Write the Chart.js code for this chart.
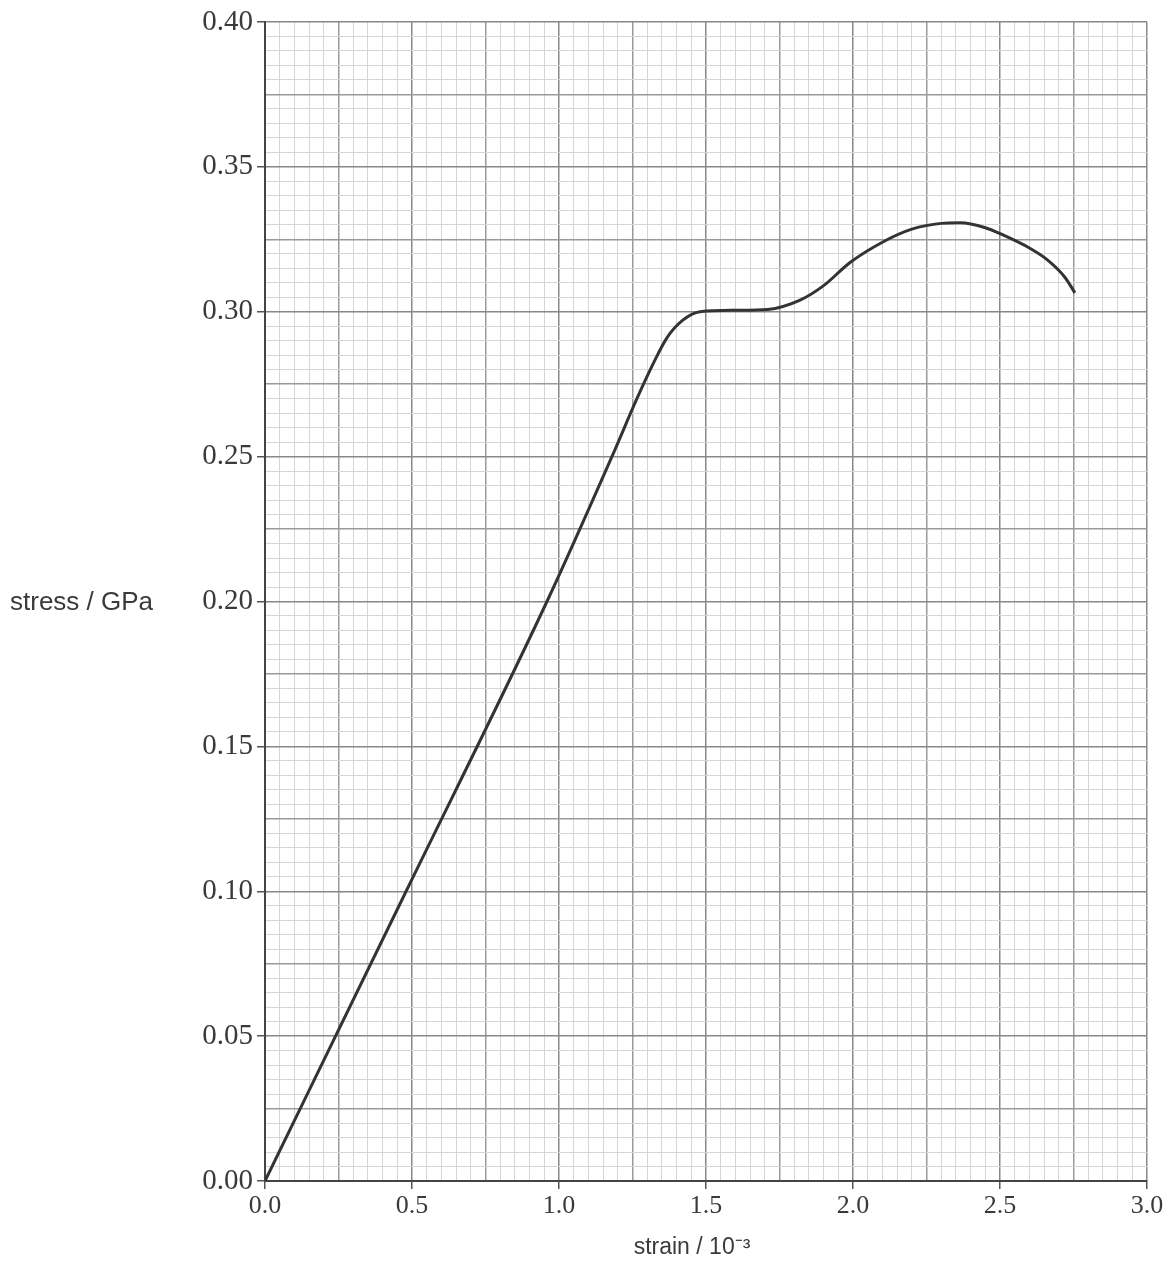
<!DOCTYPE html>
<html>
<head>
<meta charset="utf-8">
<script src="https://cdn.jsdelivr.net/npm/chart.js@4/dist/chart.umd.min.js"></script>
<style>
  html, body { margin: 0; padding: 0; background: #ffffff; }
  #wrap { width: 1172px; height: 1262px; position: relative; }
</style>
</head>
<body>
<div id="wrap"><canvas id="c"></canvas></div>
<script>
// Data (strain in 10^-3, stress in GPa)
const strain = [0, 0.48, 0.959, 1.18, 1.265, 1.32, 1.367, 1.42, 1.48, 1.60, 1.71, 1.82, 1.90, 1.99, 2.10, 2.20, 2.30, 2.364, 2.45, 2.51, 2.60, 2.66, 2.72, 2.755];
const stress = [0, 0.10, 0.20, 0.25, 0.27, 0.282, 0.291, 0.297, 0.300, 0.3005, 0.3008, 0.304, 0.309, 0.317, 0.324, 0.3285, 0.3305, 0.3307, 0.329, 0.3265, 0.322, 0.318, 0.312, 0.3065];

const xTickLabels = ['0.0', '0.5', '1.0', '1.5', '2.0', '2.5', '3.0'];
const yTickLabels = ['0.00', '0.05', '0.10', '0.15', '0.20', '0.25', '0.30', '0.35', '0.40'];
const xTitle = 'strain / 10\u207B\u00B3';
const yTitle = 'stress / GPa';

const points = strain.map((x, i) => ({ x: x, y: stress[i] }));

// grid level: 2 = labelled, 1 = medium, 0 = minor
function levelX(v) {
  const n = Math.round(v / 0.05);
  if (n % 10 === 0) return 2;
  if (n % 5 === 0) return 1;
  return 0;
}
function levelY(v) {
  const n = Math.round(v / 0.005);
  if (n % 10 === 0) return 2;
  if (n % 5 === 0) return 1;
  return 0;
}
const gridColors = ['#d6d6d6', '#9a9a9a', '#888888'];

const titlesPlugin = {
  id: 'titlesPlugin',
  afterDraw(chart) {
    const ctx = chart.ctx;
    const y = chart.scales.y.getPixelForValue(0.2);
    ctx.save();
    ctx.fillStyle = '#3a3a3a';
    ctx.font = '26px "Liberation Sans", Arial, sans-serif';
    ctx.textAlign = 'left';
    ctx.textBaseline = 'middle';
    ctx.fillText(yTitle, 10, y + 1);
    ctx.font = '23px "Liberation Sans", Arial, sans-serif';
    ctx.textAlign = 'center';
    ctx.fillText(xTitle, 692, 1248);
    ctx.restore();
  }
};

const bgPlugin = {
  id: 'bg',
  beforeDraw(chart) {
    const ctx = chart.ctx;
    ctx.save();
    ctx.fillStyle = '#ffffff';
    ctx.fillRect(0, 0, chart.width, chart.height);
    ctx.restore();
  }
};

new Chart(document.getElementById('c'), {
  type: 'scatter',
  data: {
    datasets: [{
      data: points,
      showLine: true,
      borderColor: '#333333',
      borderWidth: 3,
      pointRadius: 0,
      cubicInterpolationMode: 'monotone',
      fill: false
    }]
  },
  options: {
    responsive: true,
    maintainAspectRatio: false,
    animation: false,
    layout: { padding: { left: 0, top: 22, right: 25, bottom: 0 } },
    plugins: { legend: { display: false }, tooltip: { enabled: false } },
    scales: {
      x: {
        type: 'linear',
        min: 0, max: 3.0,
        afterFit(s) { s.height = 81; },
        border: { display: true, color: '#444', width: 2 },
        grid: {
          color: (c) => gridColors[levelX(c.tick.value)],
          lineWidth: (c) => levelX(c.tick.value) === 0 ? 1 : 1.5,
          tickLength: 8,
          tickColor: (c) => levelX(c.tick.value) === 2 ? '#555' : 'rgba(0,0,0,0)'
        },
        ticks: {
          stepSize: 0.05,
          autoSkip: false,
          maxTicksLimit: 1000,
          maxRotation: 0,
          padding: 2,
          color: '#3a3a3a',
          font: { family: '"Liberation Serif", "Times New Roman", serif', size: 26 },
          callback: (v) => {
            const n = Math.round(v / 0.05);
            return n % 10 === 0 ? xTickLabels[n / 10] : '';
          }
        }
      },
      y: {
        type: 'linear',
        min: 0, max: 0.40,
        afterFit(s) { s.width = 265; },
        border: { display: true, color: '#444', width: 2 },
        grid: {
          color: (c) => gridColors[levelY(c.tick.value)],
          lineWidth: (c) => levelY(c.tick.value) === 0 ? 1 : 1.5,
          tickLength: 8,
          tickColor: (c) => levelY(c.tick.value) === 2 ? '#555' : 'rgba(0,0,0,0)'
        },
        ticks: {
          stepSize: 0.005,
          autoSkip: false,
          maxTicksLimit: 1000,
          padding: 4,
          color: '#3a3a3a',
          font: { family: '"Liberation Serif", "Times New Roman", serif', size: 29 },
          callback: (v) => {
            const n = Math.round(v / 0.005);
            return n % 10 === 0 ? yTickLabels[n / 10] : '';
          }
        }
      }
    }
  },
  plugins: [bgPlugin, titlesPlugin]
});
</script>
</body>
</html>
